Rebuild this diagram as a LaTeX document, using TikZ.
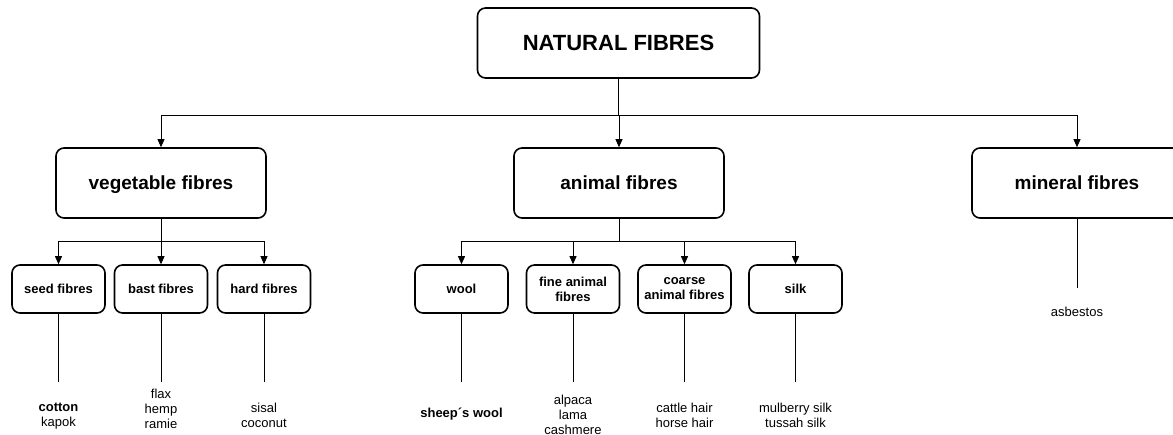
\documentclass[tikz,border=0pt]{standalone}
\usepackage{fontspec}
\setmainfont{Liberation Sans}
\usetikzlibrary{arrows.meta}
\begin{document}
\begin{tikzpicture}[x=1pt,y=-1pt,
  box/.style={draw, line width=1.6pt, rounded corners=8pt, align=center},
  topbox/.style={box, minimum width=282pt, minimum height=70pt, font=\fontsize{22}{26}\selectfont\bfseries},
  bigbox/.style={box, minimum width=210pt, minimum height=70pt, text height=13.6pt, text depth=0pt, font=\fontsize{19}{22}\selectfont\bfseries},
  smallbox/.style={box, minimum width=93pt, minimum height=48pt, font=\fontsize{13}{15}\selectfont\bfseries},
  leaf/.style={align=center, font=\fontsize{13}{15}\selectfont},
  arr/.style={-{Triangle[length=8pt,width=7pt]}, line width=0.8pt},
  link/.style={line width=0.8pt}]
  \useasboundingbox (0,0) rectangle (1173,434);
  % main groups
  \node[topbox] (nat) at (618.5,43) {NATURAL FIBRES};
  \node[bigbox] (veg) at (161,183) {vegetable fibres};
  \node[bigbox] (ani) at (619,183) {animal fibres};
  \node[bigbox] (min) at (1077,183) {mineral fibres};
  \draw[link] (nat.south) -- (nat.south |- 0,115);
  \foreach \n in {veg,ani,min} \draw[arr] (nat.south |- 0,115) -| (\n.north);
  % sub groups
  \draw[link] (veg.south) -- (veg.south |- 0,241);
  \draw[link] (ani.south) -- (ani.south |- 0,241);
  \foreach \n/\x/\t in {seed/58.5/seed fibres, bast/161/bast fibres, hard/264/hard fibres} {
    \node[smallbox] (\n) at (\x,289) {\t};
    \draw[arr] (veg.south |- 0,241) -| (\n.north);
  }
  \foreach \n/\x/\t in {wool/461.5/wool, fine/573/{fine animal\\fibres}, coarse/684.5/{coarse\\animal fibres}, silk/795.5/silk} {
    \node[smallbox] (\n) at (\x,289) {\t};
    \draw[arr] (ani.south |- 0,241) -| (\n.north);
  }
  % examples
  \foreach \n/\y/\t in {seed/416/{\textbf{cotton}\\kapok}, bast/409/{flax\\hemp\\ramie}, hard/415/{sisal\\coconut},
      wool/414/{\textbf{sheep´s wool}}, fine/415/{alpaca\\lama\\cashmere}, coarse/415/{cattle hair\\horse hair},
      silk/415/{mulberry silk\\tussah silk}} {
    \coordinate (\n-end) at (\n.south |- 0,382);
    \draw[link] (\n.south) -- (\n-end);
    \node[leaf] (\n-ex) at (\n.south |- 0,\y) {\t};
  }
  \coordinate (min-end) at (min.south |- 0,288);
  \draw[link] (min.south) -- (min-end);
  \node[leaf] (min-ex) at (min.south |- 0,312) {asbestos};
\end{tikzpicture}
\end{document}
